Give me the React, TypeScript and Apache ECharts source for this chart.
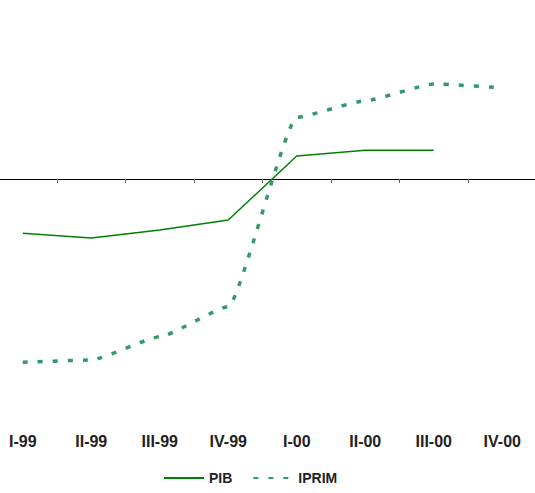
import React, { useEffect, useRef } from "react";
import * as echarts from "echarts";

const categories = ["I-99", "II-99", "III-99", "IV-99", "I-00", "II-00", "III-00", "IV-00"];
const pibValues: (number | null)[] = [-2.17, -2.36, -2.04, -1.64, 0.92, 1.15, 1.15, null];
const iprimValues: number[] = [-7.33, -7.24, -6.31, -5.11, 2.47, 3.13, 3.8, 3.65];

export default function App() {
  const ref = useRef<HTMLDivElement>(null);
  useEffect(() => {
    document.body.style.margin = "0";
    const chart = echarts.init(ref.current!, null, { renderer: "svg" });
    chart.setOption({
      animation: false,
      backgroundColor: "#ffffff",
      grid: {
        left: -11.5,
        right: -1.5,
        top: 79,
        bottom: 64,
        containLabel: false,
        outerBoundsMode: "none",
      },
      legend: {
        left: 163,
        top: 471,
        padding: 0,
        itemWidth: 40,
        itemHeight: 14,
        itemGap: 20,
        itemStyle: { opacity: 0 },
        textStyle: { fontFamily: "Liberation Sans, Arial, sans-serif", fontWeight: "bold", fontSize: 14, color: "#222" },
        data: ["PIB", "IPRIM"],
      },
      xAxis: [
        {
          type: "category",
          data: categories,
          position: "bottom",
          boundaryGap: true,
          axisLine: { show: false, onZero: false },
          axisTick: { show: false },
          axisLabel: {
            margin: 4,
            fontFamily: "Liberation Sans, Arial, sans-serif",
            fontWeight: "bold",
            fontSize: 16,
            color: "#222",
          },
        },
        {
          type: "category",
          data: categories,
          position: "bottom",
          boundaryGap: true,
          axisLine: { show: true, onZero: true, lineStyle: { color: "#000", width: 1 } },
          axisTick: { show: true, length: 4, lineStyle: { color: "#666" } },
          axisLabel: { show: false },
        },
      ],
      yAxis: {
        type: "value",
        min: -10,
        max: 4,
        show: false,
        splitLine: { show: false },
      },
      series: [
        {
          name: "PIB",
          type: "line",
          data: pibValues,
          xAxisIndex: 0,
          symbol: "none",
          smooth: false,
          color: "#008000",
          lineStyle: { color: "#008000", width: 1.5 },
        },
        {
          name: "IPRIM",
          type: "line",
          data: iprimValues,
          xAxisIndex: 0,
          symbol: "none",
          smooth: 0.15,
          smoothMonotone: "x",
          color: "#339966",
          lineStyle: { color: "#339966", width: 3.5, type: [5, 10], cap: "butt" },
        },
      ],
    });
    return () => chart.dispose();
  }, []);
  return <div ref={ref} style={{ position: "fixed", left: 0, top: 0, width: 535, height: 493 }} />;
}
